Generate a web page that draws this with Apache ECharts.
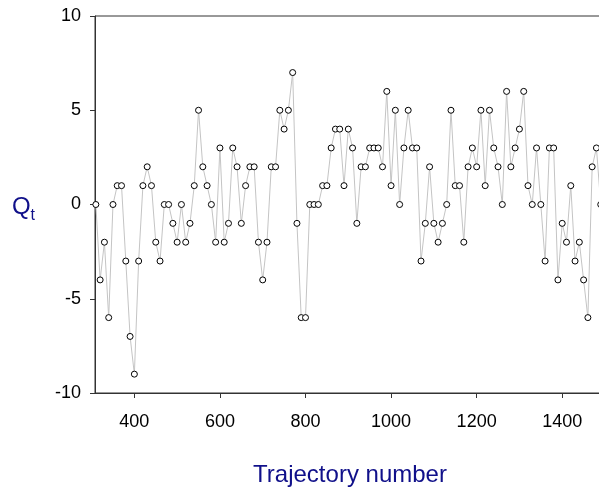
<!DOCTYPE html>
<html lang="en">
  <head>
    <meta charset="UTF-8" />
    <script src="https://cdn.jsdelivr.net/npm/echarts@6/dist/echarts.min.js"></script>
    <title>Qt vs trajectory</title>
    <style>
      html, body { margin: 0; padding: 0; background: #fff; }
      #app { width: 599px; height: 487px; }
    </style>
  </head>
  <body>
    <div id="app"></div>
    <script>
      // trajectory numbers, one point every 10
      const xStart = 310;
      const xStep = 10;
      // Qt values
      const qt = [
        0, -4, -2, -6, 0, 1, 1, -3, -7, -9,
        -3, 1, 2, 1, -2, -3, 0, 0, -1, -2,
        0, -2, -1, 1, 5, 2, 1, 0, -2, 3,
        -2, -1, 3, 2, -1, 1, 2, 2, -2, -4,
        -2, 2, 2, 5, 4, 5, 7, -1, -6, -6,
        0, 0, 0, 1, 1, 3, 4, 4, 1, 4,
        3, -1, 2, 2, 3, 3, 3, 2, 6, 1,
        5, 0, 3, 5, 3, 3, -3, -1, 2, -1,
        -2, -1, 0, 5, 1, 1, -2, 2, 3, 2,
        5, 1, 5, 3, 2, 0, 6, 2, 3, 4,
        6, 1, 0, 3, 0, -3, 3, 3, -4, -1,
        -2, 1, -3, -2, -4, -6, 2, 3, 0
      ];
      const xTicks = [400, 600, 800, 1000, 1200, 1400];
      const yTicks = [-10, -5, 0, 5, 10];

      const points = qt.map((v, i) => [xStart + i * xStep, v]);

      const navy = "#10108a";
      const chart = echarts.init(document.getElementById("app"), null, { renderer: "canvas" });
      chart.setOption({
        animation: false,
        grid: {
          left: 95,
          top: 16,
          width: 510,
          height: 377,
          show: true,
          borderColor: "#333",
          borderWidth: 1,
          containLabel: false,
          outerBoundsMode: "none",
        },
        xAxis: {
          type: "value",
          min: 308,
          max: 1500,
          interval: 200,
          name: "Trajectory number",
          nameLocation: "middle",
          nameGap: 70,
          nameTextStyle: { color: navy, fontSize: 24, fontFamily: "Liberation Sans" },
          axisLine: { show: true, onZero: false, lineStyle: { color: "#333" } },
          axisTick: {
            show: true,
            length: 5,
            lineStyle: { color: "#333" },
            customValues: xTicks,
          },
          axisLabel: {
            color: "#000",
            fontSize: 18,
            fontFamily: "Liberation Sans",
            margin: 20,
            customValues: xTicks,
            formatter: (v) => String(v),
          },
          splitLine: { show: false },
        },
        yAxis: {
          type: "value",
          min: yTicks[0],
          max: yTicks[yTicks.length - 1],
          interval: 5,
          name: "{q|Q}{t|t}",
          nameLocation: "middle",
          nameRotate: 0,
          nameGap: 60,
          nameTextStyle: {
            rich: {
              q: { color: navy, fontSize: 24, fontFamily: "Liberation Sans", padding: [6, 0, 0, 0] },
              t: { color: navy, fontSize: 16, fontFamily: "Liberation Sans", padding: [22, 0, 0, 0] },
            },
          },
          axisLine: { show: true, lineStyle: { color: "#333" } },
          axisTick: { show: true, length: 5, lineStyle: { color: "#333" } },
          axisLabel: { color: "#000", fontSize: 18, fontFamily: "Liberation Sans", margin: 14 },
          splitLine: { show: false },
        },
        series: [
          {
            type: "line",
            data: points,
            symbol: "circle",
            symbolSize: 6,
            showAllSymbol: true,
            lineStyle: { color: "#c4c4c4", width: 1 },
            itemStyle: { color: "#fff", borderColor: "#000", borderWidth: 1 },
            emphasis: { disabled: true },
          },
        ],
      });
    </script>
  </body>
</html>
